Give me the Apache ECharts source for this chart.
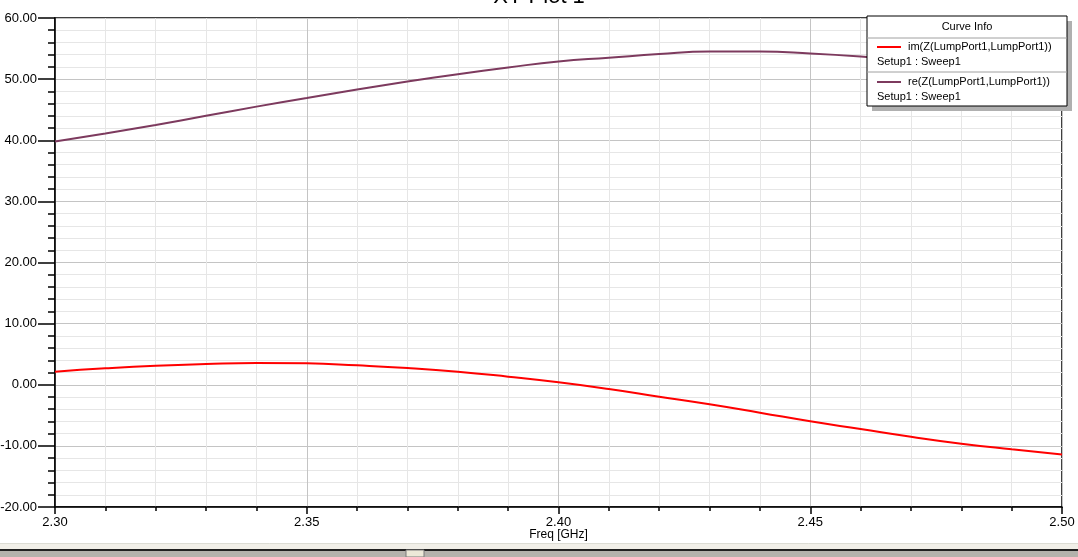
<!DOCTYPE html>
<html>
<head>
<meta charset="utf-8">
<script src="https://cdn.jsdelivr.net/npm/echarts@6/dist/echarts.min.js"></script>
<style>
html,body{margin:0;padding:0;background:#fff;}
#c{width:1078px;height:557px;}
</style>
</head>
<body>
<div id="c"></div>
<script>
const freq = [2.30,2.31,2.32,2.33,2.34,2.35,2.36,2.37,2.38,2.39,2.40,2.41,2.42,2.43,2.44,2.45,2.46,2.47,2.48,2.49,2.50];
const imZ  = [2.14,2.69,3.12,3.40,3.56,3.50,3.17,2.74,2.14,1.32,0.40,-0.70,-1.95,-3.20,-4.57,-5.98,-7.24,-8.50,-9.64,-10.56,-11.40];
const reZ  = [39.8,41.1,42.5,44.0,45.5,46.9,48.3,49.6,50.8,51.9,52.9,53.5,54.1,54.5,54.5,54.2,53.7,53.0,52.1,51.1,50.0];
const xTicks = ['2.30','2.35','2.40','2.45','2.50'];
const yTicks = ['-20.00','-10.00','0.00','10.00','20.00','30.00','40.00','50.00','60.00'];
const seriesNames = ['im(Z(LumpPort1,LumpPort1))','re(Z(LumpPort1,LumpPort1))'];
const setupName = 'Setup1 : Sweep1';

const chart = echarts.init(document.getElementById('c'), null, {renderer:'canvas'});
const font = 'Arial, "Liberation Sans", sans-serif';
const lx = 867, ly = 16, lw = 200, lh = 90;
const colors = ['#ff0000','#7d3a5e'];

chart.setOption({
  animation:false,
  backgroundColor:'#fff',
  title:{text:'XY Plot 1', left:'center', top:-19, textStyle:{fontFamily:font,fontSize:22,fontWeight:'normal',color:'#000'}},
  grid:{left:55,right:16,top:18,bottom:50,outerBoundsMode:'none',containLabel:false,show:true,borderColor:'#000',borderWidth:1.5,backgroundColor:'transparent'},
  xAxis:{
    type:'value',min:2.3,max:2.5,interval:0.05,
    name:'Freq [GHz]',nameLocation:'middle',nameGap:22,nameMoveOverlap:false,
    nameTextStyle:{fontFamily:font,fontSize:12,color:'#000'},
    axisLine:{show:true,onZero:false,lineStyle:{color:'#000',width:1.5}},
    axisTick:{show:true,length:7,lineStyle:{color:'#000',width:1.5}},
    minorTick:{show:true,splitNumber:5,length:4,lineStyle:{color:'#000',width:1.5}},
    splitLine:{show:true,lineStyle:{color:'#c4c4c4',width:1}},
    minorSplitLine:{show:true,lineStyle:{color:'#e6e6e6',width:1}},
    axisLabel:{fontFamily:font,fontSize:13,color:'#000',margin:9,
      formatter:v=>{const s=v.toFixed(2);return xTicks.includes(s)?s:'';}}
  },
  yAxis:{
    type:'value',min:-20,max:60,interval:10,
    axisLine:{show:true,onZero:false,lineStyle:{color:'#000',width:1.5}},
    axisTick:{show:true,length:17,lineStyle:{color:'#000',width:1.5}},
    minorTick:{show:true,splitNumber:5,length:7,lineStyle:{color:'#000',width:1.5}},
    splitLine:{show:true,lineStyle:{color:'#c4c4c4',width:1}},
    minorSplitLine:{show:true,lineStyle:{color:'#e6e6e6',width:1}},
    axisLabel:{fontFamily:font,fontSize:13,color:'#000',margin:18,
      formatter:v=>{const s=v.toFixed(2);return yTicks.includes(s)?s:'';}}
  },
  series:[
    {name:seriesNames[0],type:'line',showSymbol:false,smooth:true,
     data:freq.map((f,i)=>[f,imZ[i]]),lineStyle:{color:colors[0],width:2},itemStyle:{color:colors[0]},z:3},
    {name:seriesNames[1],type:'line',showSymbol:false,smooth:true,
     data:freq.map((f,i)=>[f,reZ[i]]),lineStyle:{color:colors[1],width:2},itemStyle:{color:colors[1]},z:3}
  ],
  graphic:[
    {type:'rect',shape:{x:lx+5,y:ly+5,width:lw,height:lh},style:{fill:'#b0b0b0'},z:10},
    {type:'rect',shape:{x:lx,y:ly,width:lw,height:lh},style:{fill:'#fff',stroke:'#000',lineWidth:1},z:11},
    {type:'line',shape:{x1:lx,y1:ly+22,x2:lx+lw,y2:ly+22},style:{stroke:'#a0a0a0',lineWidth:1},z:12},
    {type:'line',shape:{x1:lx,y1:ly+56,x2:lx+lw,y2:ly+56},style:{stroke:'#a0a0a0',lineWidth:1},z:12},
    {type:'text',x:lx+lw/2,y:ly+11,style:{text:'Curve Info',fontFamily:font,fontSize:11,fill:'#000',align:'center',verticalAlign:'middle'},z:12},
    {type:'line',shape:{x1:lx+10,y1:ly+31,x2:lx+34,y2:ly+31},style:{stroke:colors[0],lineWidth:2},z:12},
    {type:'text',x:lx+41,y:ly+31,style:{text:seriesNames[0],fontFamily:font,fontSize:11,fill:'#000',verticalAlign:'middle'},z:12},
    {type:'text',x:lx+10,y:ly+46,style:{text:setupName,fontFamily:font,fontSize:11,fill:'#000',verticalAlign:'middle'},z:12},
    {type:'line',shape:{x1:lx+10,y1:ly+66,x2:lx+34,y2:ly+66},style:{stroke:colors[1],lineWidth:2},z:12},
    {type:'text',x:lx+41,y:ly+66,style:{text:seriesNames[1],fontFamily:font,fontSize:11,fill:'#000',verticalAlign:'middle'},z:12},
    {type:'text',x:lx+10,y:ly+81,style:{text:setupName,fontFamily:font,fontSize:11,fill:'#000',verticalAlign:'middle'},z:12},
    {type:'rect',shape:{x:0,y:543,width:1078,height:7},style:{fill:'#f1efe8'},z:10},
    {type:'line',shape:{x1:0,y1:543.5,x2:1078,y2:543.5},style:{stroke:'#dcdcd4',lineWidth:1},z:11},
    {type:'rect',shape:{x:0,y:549,width:1078,height:2},style:{fill:'#202020'},z:11},
    {type:'rect',shape:{x:0,y:551,width:1078,height:6},style:{fill:'#b4b2ac'},z:11},
    {type:'rect',shape:{x:406,y:550,width:18,height:7},style:{fill:'#ece9d8',stroke:'#7a7a7a',lineWidth:1},z:12}
  ]
});
</script>
</body>
</html>
